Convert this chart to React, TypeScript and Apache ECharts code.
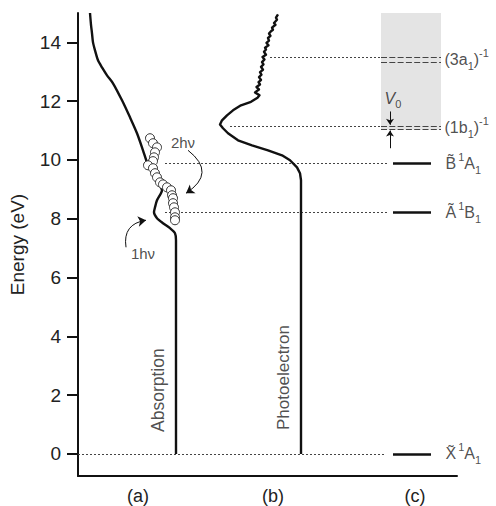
import { useEffect, useRef } from 'react';
import * as echarts from 'echarts';

const FONT = '"Liberation Sans", Arial, Helvetica, sans-serif';
const INK = '#111';
const TEXT = '#222';

// y axis ticks
const yTicks = [0, 2, 4, 6, 8, 10, 12, 14];
// panel labels (x positions in arbitrary horizontal units 0..379)
const panelNames = ['(a)', '(b)', '(c)'];
const panelX = [60, 195, 337];

// Absorption spectrum (x = intensity position, y = energy eV)
const absorption: [number, number][] = [
  [12, 15.0], [13, 14.6], [14, 14.31], [15, 14.0], [17, 13.73], [20, 13.39], [24, 13.15],
  [29, 12.88], [35, 12.61], [44, 12.03], [52, 11.45], [59, 10.91], [65, 10.33], [69, 9.92],
  [72, 9.72], [77, 9.41], [81, 9.17], [84, 8.97], [79, 8.63], [77, 8.39], [76, 8.22],
  [79, 8.02], [85, 7.85], [92, 7.68], [97, 7.51], [98, 7.27], [98, 6.93], [98, 0],
];

// Two-photon data points (open circles)
const twoPhoton: [number, number][] = [
  [72, 10.74], [75, 10.57], [79, 10.43], [77, 10.26], [76, 10.09], [75, 9.96], [70, 9.82],
  [75, 9.72], [77, 9.55], [79, 9.41], [82, 9.24], [85, 9.17], [89, 9.07], [93, 8.97],
  [94, 8.8], [95, 8.7], [95, 8.53], [96, 8.39], [97, 8.22], [97, 8.05], [97, 7.95],
];

// Photoelectron spectrum
const photoelectron: [number, number][] = [
  [200, 14.95], [198, 14.84], [199, 14.77], [196, 14.66], [197.5, 14.6], [194, 14.5],
  [195, 14.43], [193, 14.38], [191, 14.3], [192.5, 14.22], [190, 14.15], [191, 14.06],
  [188.5, 13.98], [190.5, 13.9], [187, 13.82], [188, 13.76], [186, 13.68], [188, 13.58],
  [184.5, 13.5], [186.5, 13.42], [184, 13.33], [185.5, 13.25], [183, 13.17], [185, 13.07],
  [182, 12.99], [183.5, 12.9], [181, 12.82], [183, 12.72], [180.5, 12.65], [182, 12.57],
  [178.5, 12.48], [181, 12.4], [177, 12.3], [181.5, 12.2], [179.5, 12.12], [173, 11.98],
  [163, 11.86], [155, 11.69], [149, 11.52], [144, 11.35], [142, 11.21], [145, 11.08],
  [150, 10.91], [160, 10.67], [174, 10.5], [190, 10.33], [204, 10.16], [212, 9.99],
  [219, 9.75], [222, 9.55], [223, 9.31], [223, 0],
];

// Neutral states (c) and ionic continuum thresholds
const stateEnergies = [0, 8.23, 9.88];
const stateLabels = [
  '{n|X\u0303}{q|1}{n|A}{s|1}',
  '{n|A\u0303}{q|1}{n|B}{s|1}',
  '{n|B\u0303}{q|1}{n|A}{s|1}',
];
const stateDottedStart = [0, 87, 87];
const ionUpper = [11.16, 13.48];
const ionLower = [11.03, 13.34];
const ionLabels = ['{n|(1b}{s|1}{n|)}{p|-1}', '{n|(3a}{s|1}{n|)}{p|-1}'];
const ionDottedStart = [152, 192];

export default function App() {
  const ref = useRef<HTMLDivElement>(null);
  useEffect(() => {
    document.body.style.margin = '0';
    const chart = echarts.init(ref.current!, null, { renderer: 'svg' });

    const rich = {
      n: { fontSize: 16, lineHeight: 24, fontFamily: FONT, color: TEXT },
      s: { fontSize: 11, lineHeight: 11, verticalAlign: 'bottom', fontFamily: FONT, color: TEXT },
      p: { fontSize: 11, lineHeight: 11, verticalAlign: 'top', fontFamily: FONT, color: TEXT },
      q: { fontSize: 11, lineHeight: 17, verticalAlign: 'top', fontFamily: FONT, color: TEXT, padding: [0, 0, 0, 2] },
      v: { fontSize: 16, lineHeight: 22, fontStyle: 'italic', fontFamily: FONT, color: TEXT },
      z: { fontSize: 11, lineHeight: 11, verticalAlign: 'bottom', fontFamily: FONT, color: TEXT },
    };

    const dotted: any[] = [];
    stateEnergies.forEach((e, i) => dotted.push({ coords: [[stateDottedStart[i], e], [i === 0 ? 307 : 309, e]] }));
    ionUpper.forEach((e, i) => dotted.push({ coords: [[ionDottedStart[i], e], [302, e]] }));

    const dashed: any[] = [];
    ionUpper.forEach((e) => dashed.push({ coords: [[303, e], [363, e]] }));
    ionLower.forEach((e) => dashed.push({ coords: [[303, e], [363, e]] }));

    const solid = stateEnergies.map((e) => ({ coords: [[315, e], [353, e]] }));

    const labels: any[] = [];
    stateEnergies.forEach((e, i) =>
      labels.push({ value: [367, e], label: { formatter: stateLabels[i], position: 'right', distance: 0, rich } })
    );
    ionUpper.forEach((e, i) =>
      labels.push({
        value: [366, (e + ionLower[i]) / 2],
        label: { formatter: ionLabels[i], position: 'right', distance: 0, rich },
      })
    );
    labels.push({ value: [315, 12.08], label: { formatter: '{v|V}{z|0}', position: 'inside', rich } });
    labels.push({ value: [105, 10.6], label: { formatter: '2hν', position: 'inside', fontSize: 15 } });
    labels.push({ value: [65, 6.83], label: { formatter: '1hν', position: 'inside', fontSize: 15 } });
    labels.push({ value: [80, 2.17], label: { formatter: 'Absorption', position: 'inside', rotate: 90, fontSize: 17.5 } });
    labels.push({ value: [205, 2.6], label: { formatter: 'Photoelectron', position: 'inside', rotate: 90, fontSize: 17 } });

    const option: any = {
      animation: false,
      grid: { left: 78, right: 39, top: 13, bottom: 30, containLabel: false, outerBoundsMode: 'none' },
      xAxis: {
        type: 'value',
        min: 0,
        max: 379,
        axisLine: { show: true, onZero: false, lineStyle: { color: INK, width: 2 } },
        axisTick: { show: false },
        splitLine: { show: false },
        axisLabel: {
          customValues: panelX,
          formatter: (v: number) => panelNames[panelX.indexOf(v)] ?? '',
          fontSize: 18,
          margin: 11,
          color: TEXT,
          fontFamily: FONT,
        },
      },
      yAxis: {
        type: 'value',
        min: -0.75,
        max: 15,
        name: 'Energy (eV)',
        nameLocation: 'middle',
        nameGap: 51,
        nameTextStyle: { fontSize: 19, color: TEXT, fontFamily: FONT },
        axisLine: { show: true, onZero: false, lineStyle: { color: INK, width: 2 } },
        axisTick: { show: true, customValues: yTicks, length: 11, lineStyle: { color: INK, width: 2 } },
        splitLine: { show: false },
        axisLabel: { customValues: yTicks, fontSize: 19, margin: 17, color: TEXT, fontFamily: FONT },
      },
      series: [
        {
          type: 'scatter',
          z: 1,
          data: [],
          silent: true,
          markArea: {
            silent: true,
            itemStyle: { color: '#e4e4e4' },
            data: [[{ coord: [303, ionLower[0]] }, { coord: [363, 15] }]],
          },
        },
        {
          type: 'lines',
          coordinateSystem: 'cartesian2d',
          z: 2,
          silent: true,
          lineStyle: { color: '#444', width: 1, type: [2, 2], opacity: 1 },
          data: dotted,
        },
        {
          type: 'lines',
          coordinateSystem: 'cartesian2d',
          z: 2,
          silent: true,
          lineStyle: { color: '#444', width: 1.2, type: [6, 2.3], opacity: 1 },
          data: dashed,
        },
        {
          type: 'lines',
          coordinateSystem: 'cartesian2d',
          z: 3,
          silent: true,
          lineStyle: { color: INK, width: 2.5, opacity: 1 },
          data: solid,
        },
        {
          type: 'line',
          z: 4,
          data: absorption,
          showSymbol: false,
          symbol: 'none',
          smooth: 0.25,
          lineStyle: { color: INK, width: 2.4 },
        },
        {
          type: 'line',
          z: 4,
          data: photoelectron,
          showSymbol: false,
          symbol: 'none',
          lineStyle: { color: INK, width: 2.4, join: 'round' },
        },
        {
          type: 'scatter',
          z: 5,
          data: twoPhoton,
          symbol: 'circle',
          symbolSize: 9,
          itemStyle: { color: '#fff', borderColor: '#333', borderWidth: 1, opacity: 1 },
        },
        {
          type: 'lines',
          coordinateSystem: 'cartesian2d',
          z: 6,
          silent: true,
          symbol: ['none', 'arrow'],
          symbolSize: 8,
          lineStyle: { color: INK, width: 1, opacity: 1 },
          data: [
            { coords: [[110, 10.33], [108, 8.87]], lineStyle: { curveness: 0.7 } },
            { coords: [[48, 7.03], [68, 7.95]], lineStyle: { curveness: 0.5 } },
            { coords: [[312, 11.65], [312, 11.2]], symbolSize: 6 },
            { coords: [[312, 10.4], [312, 11.0]], symbolSize: 6 },
          ],
        },
        {
          type: 'scatter',
          z: 7,
          silent: true,
          symbolSize: 1,
          itemStyle: { color: 'rgba(0,0,0,0)' },
          label: { show: true, color: TEXT, fontFamily: FONT },
          data: labels,
        },
      ],
    };
    chart.setOption(option);
    return () => chart.dispose();
  }, []);
  return <div ref={ref} style={{ width: 496, height: 506 }} />;
}
